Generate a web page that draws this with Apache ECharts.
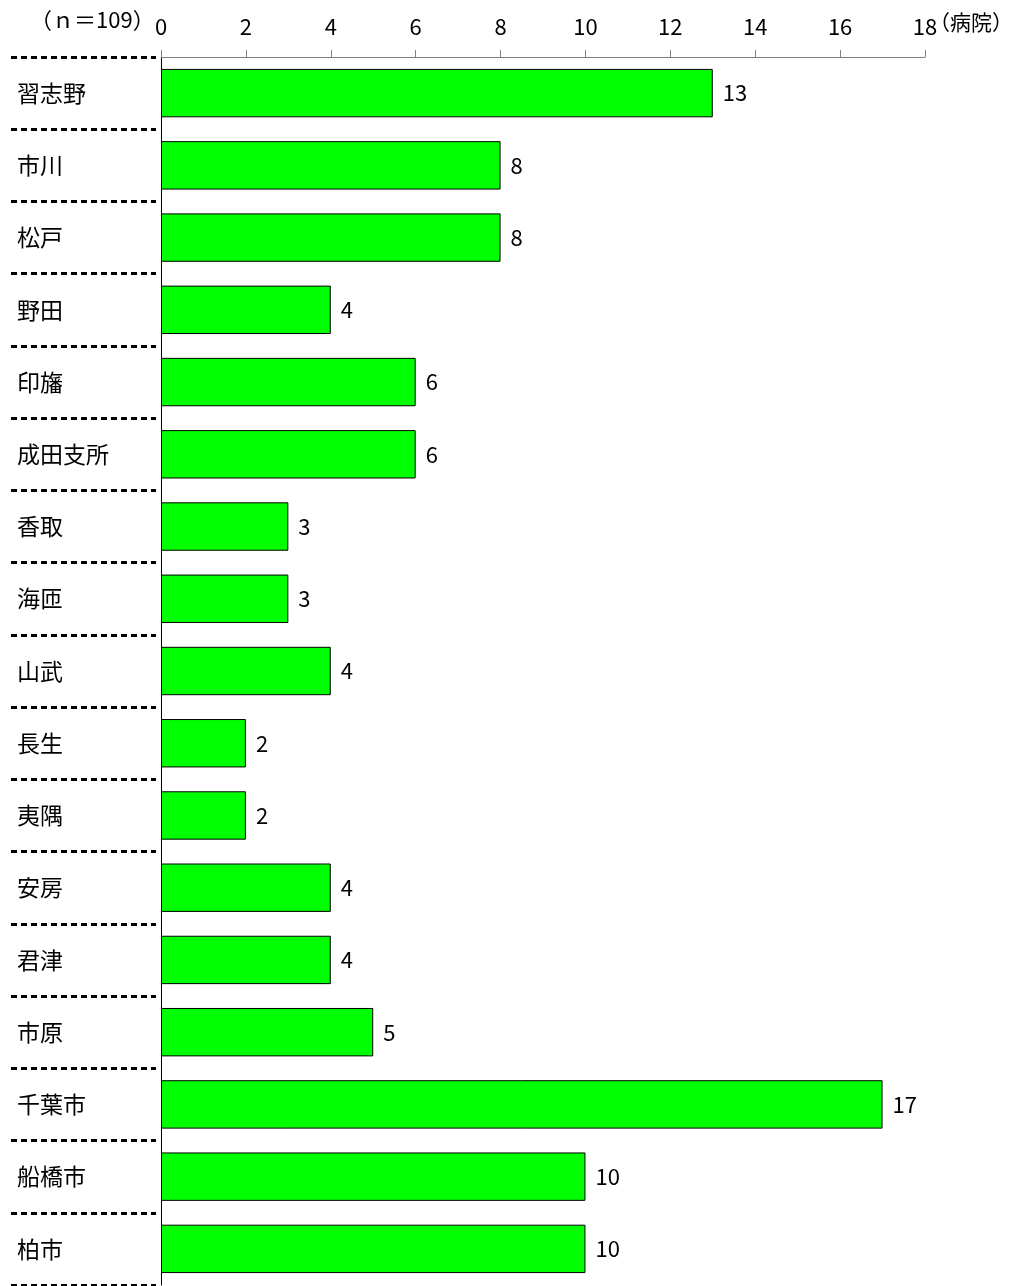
<!DOCTYPE html>
<html><head><meta charset="utf-8">
<script src="https://cdn.jsdelivr.net/npm/echarts@6/dist/echarts.min.js"></script>
<style>html,body{margin:0;padding:0;background:#fff}#c{width:1011px;height:1286px}</style>
</head><body><div id="c"></div>
<script>
const categories = ['習志野','市川','松戸','野田','印旛','成田支所','香取','海匝','山武','長生','夷隅','安房','君津','市原','千葉市','船橋市','柏市'];
const values = [13,8,8,4,6,6,3,3,4,2,2,4,4,5,17,10,10];
const axisMin = 0, axisMax = 18, axisStep = 2;
const sampleNote = '（ｎ＝109）';
const unitNote = '（病院）';
const FONT = '"Noto Sans CJK JP", "Noto Sans", sans-serif';

const chart = echarts.init(document.getElementById('c'), null, {renderer:'canvas'});
chart.setOption({
  animation:false,
  backgroundColor:'#fff',
  textStyle:{fontFamily:FONT},
  grid:[
    {left:161, right:86, top:57, bottom:1, containLabel:false},
    {left:11, width:145, top:57, bottom:1, containLabel:false}
  ],
  xAxis:[
    {gridIndex:0, type:'value', position:'top', min:axisMin, max:axisMax, interval:axisStep,
     axisLine:{show:true, lineStyle:{color:'#808080', width:1}},
     axisTick:{show:true, inside:false, length:7, lineStyle:{color:'#808080'}},
     axisLabel:{color:'#000', fontSize:22, margin:19, fontFamily:FONT},
     splitLine:{show:false}},
    {gridIndex:1, type:'value', show:false, min:0, max:1}
  ],
  yAxis:[
    {gridIndex:0, type:'category', data:categories, inverse:true,
     axisLine:{show:true, onZero:false, lineStyle:{color:'#000', width:1}},
     axisTick:{show:false}, axisLabel:{show:false}, splitLine:{show:false}},
    {gridIndex:1, type:'category', data:categories, inverse:true,
     axisLine:{show:false}, axisTick:{show:false},
     axisLabel:{show:true, inside:true, margin:6, align:'left', color:'#000', fontSize:23, fontFamily:FONT},
     splitLine:{show:true, lineStyle:{color:'#000', width:3, type:[6,4]}}}
  ],
  series:[{
    type:'bar', xAxisIndex:0, yAxisIndex:0, data:values, barWidth:'67%',
    itemStyle:{color:'#00FF00', borderColor:'#000', borderWidth:1},
    label:{show:true, position:'right', distance:10, color:'#000', fontSize:22, fontFamily:FONT}
  }],
  graphic:[
    {type:'text', left:30, top:9, style:{text:sampleNote, font:'22px '+FONT, fill:'#000'}},
    {type:'text', left:929, top:12, style:{text:unitNote, font:'21px '+FONT, fill:'#000'}}
  ]
});
</script></body></html>
